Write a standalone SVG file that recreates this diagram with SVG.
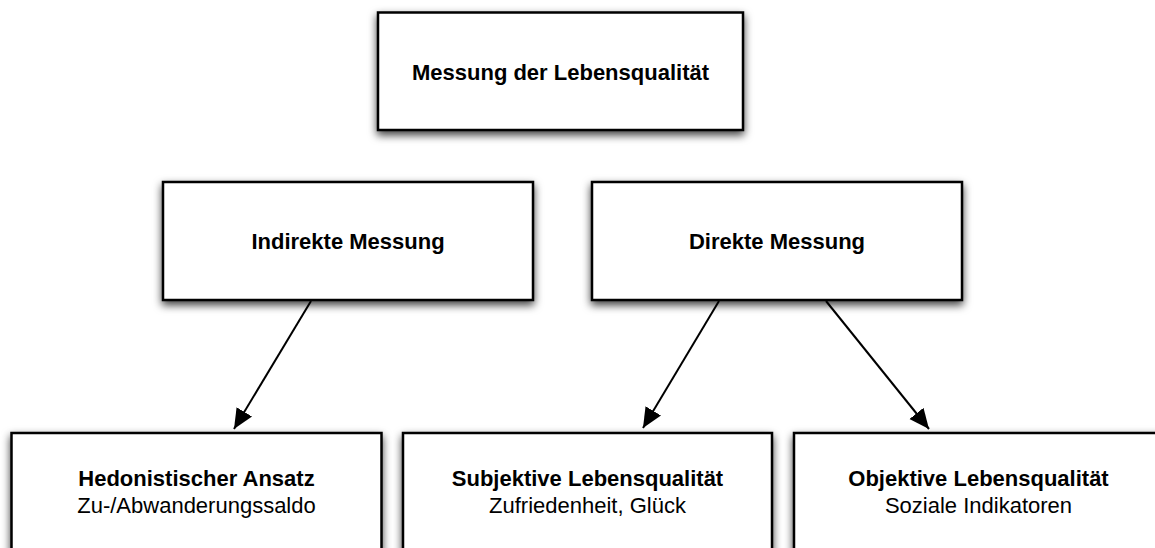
<svg xmlns="http://www.w3.org/2000/svg" width="1155" height="548" viewBox="0 0 1155 548">
<defs>
<filter id="sh" x="-10%" y="-20%" width="120%" height="150%">
<feDropShadow dx="0" dy="4" stdDeviation="4" flood-color="#000" flood-opacity="0.75"/>
</filter>
<marker id="ah" markerUnits="userSpaceOnUse" markerWidth="22" markerHeight="22" viewBox="0 0 22 22" refX="20" refY="11" orient="auto">
<path d="M0,2 L20,11 L0,20 Z" fill="#000"/>
</marker>
<style>
.box{fill:#fff;stroke:#000;stroke-width:2.5}
.t{font-family:"Liberation Sans",Arial,Helvetica,sans-serif;font-size:22px;text-anchor:middle;fill:#000}
.b{font-weight:bold}
.c{stroke:#000;stroke-width:2;fill:none}
</style>
</defs>
<rect width="1155" height="548" fill="#fff"/>
<g id="connectors">
<line class="c" x1="311" y1="301" x2="234" y2="429" marker-end="url(#ah)"/>
<line class="c" x1="719" y1="301" x2="643" y2="428" marker-end="url(#ah)"/>
<line class="c" x1="826" y1="301" x2="929" y2="429" marker-end="url(#ah)"/>
</g>
<g id="n-top">
<rect class="box" filter="url(#sh)" x="378" y="12.5" width="365" height="117.5"/>
<text class="t b" x="560.5" y="80">Messung der Lebensqualität</text>
</g>
<g id="n-indirekt">
<rect class="box" filter="url(#sh)" x="163" y="182" width="370" height="118"/>
<text class="t b" x="348" y="249">Indirekte Messung</text>
</g>
<g id="n-direkt">
<rect class="box" filter="url(#sh)" x="592" y="182" width="370" height="118"/>
<text class="t b" x="777" y="249">Direkte Messung</text>
</g>
<g id="n-hedon">
<rect class="box" filter="url(#sh)" x="11.5" y="433" width="370" height="140"/>
<text class="t b" x="196.5" y="486">Hedonistischer Ansatz</text>
<text class="t" x="196.5" y="513">Zu-/Abwanderungssaldo</text>
</g>
<g id="n-subj">
<rect class="box" filter="url(#sh)" x="403" y="433" width="369" height="140"/>
<text class="t b" x="587.5" y="486">Subjektive Lebensqualität</text>
<text class="t" x="587.5" y="513">Zufriedenheit, Glück</text>
</g>
<g id="n-obj">
<rect class="box" filter="url(#sh)" x="794" y="433" width="369" height="140"/>
<text class="t b" x="978.5" y="486">Objektive Lebensqualität</text>
<text class="t" x="978.5" y="513">Soziale Indikatoren</text>
</g>
</svg>
